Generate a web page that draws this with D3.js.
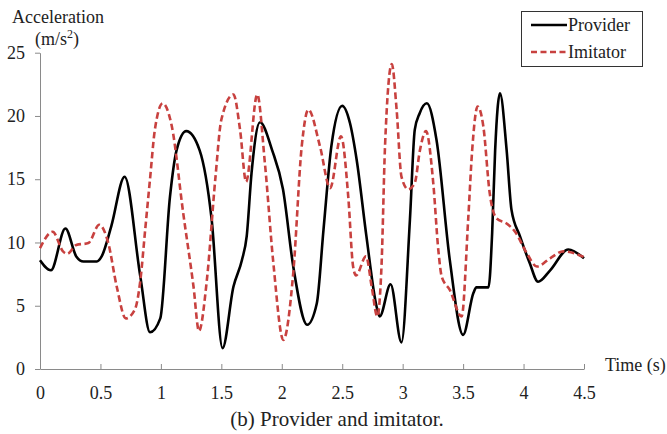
<!DOCTYPE html>
<html>
<head>
<meta charset="utf-8">
<script src="https://cdn.jsdelivr.net/npm/d3@7"></script>
<style>
  html, body { margin: 0; padding: 0; background: #fff; }
  svg { display: block; }
  svg text { font-family: 'Liberation Serif', 'Times New Roman', Times, 'DejaVu Serif', serif !important; fill: #222; }
</style>
</head>
<body>
<svg id="chart" width="667" height="434"></svg>
<script>
// ---- Data ----
const seriesNames = ["Provider", "Imitator"];
const xTicks = [0, 0.5, 1, 1.5, 2, 2.5, 3, 3.5, 4, 4.5];
const yTicks = [0, 5, 10, 15, 20, 25];

const providerTime = [0.00, 0.09, 0.21, 0.30, 0.36, 0.47, 0.51, 0.59, 0.70, 0.83, 0.91, 0.995, 1.075, 1.13, 1.21, 1.32, 1.42, 1.51, 1.60, 1.67, 1.71, 1.75, 1.82, 1.92, 2.01, 2.095, 2.21, 2.29, 2.345, 2.41, 2.50, 2.565, 2.62, 2.70, 2.785, 2.81, 2.90, 2.99, 3.06, 3.10, 3.14, 3.20, 3.28, 3.39, 3.50, 3.585, 3.61, 3.71, 3.74, 3.765, 3.805, 3.86, 3.90, 3.97, 4.05, 4.12, 4.22, 4.37, 4.50];
const providerAcc  = [8.6, 7.8, 11.1, 8.9, 8.5, 8.5, 8.9, 11.3, 15.2, 7.3, 2.9, 4.0, 13.6, 17.3, 18.8, 17.3, 11.8, 1.65, 6.5, 8.6, 10.5, 15.5, 19.5, 17.3, 14.2, 8.1, 3.5, 5.2, 11.0, 17.6, 20.8, 19.4, 16.5, 10.5, 4.9, 4.15, 6.7, 2.1, 11.8, 18.9, 20.2, 21.0, 18.1, 8.6, 2.7, 6.0, 6.45, 6.45, 10.7, 17.3, 21.8, 17.3, 12.6, 10.5, 8.4, 6.9, 7.8, 9.45, 8.75];

const imitatorTime = [0.00, 0.105, 0.19, 0.225, 0.30, 0.40, 0.49, 0.565, 0.635, 0.71, 0.785, 0.83, 0.87, 0.91, 0.95, 1.015, 1.09, 1.185, 1.27, 1.315, 1.38, 1.45, 1.50, 1.60, 1.655, 1.705, 1.797, 1.86, 1.93, 2.013, 2.095, 2.165, 2.22, 2.316, 2.40, 2.49, 2.55, 2.59, 2.614, 2.697, 2.744, 2.79, 2.826, 2.854, 2.91, 2.95, 2.99, 3.046, 3.10, 3.143, 3.193, 3.253, 3.295, 3.323, 3.39, 3.488, 3.543, 3.575, 3.62, 3.667, 3.72, 3.777, 3.86, 3.93, 4.027, 4.11, 4.22, 4.33, 4.50];
const imitatorAcc  = [9.55, 10.85, 9.3, 9.1, 9.8, 9.95, 11.4, 9.95, 6.5, 4.0, 4.7, 7.0, 11.0, 15.0, 18.9, 21.0, 19.2, 12.3, 6.5, 3.0, 7.0, 15.0, 19.7, 21.7, 18.9, 14.8, 21.7, 16.3, 8.4, 2.3, 7.6, 17.6, 20.5, 17.6, 14.3, 18.4, 13.6, 8.1, 7.4, 8.9, 6.5, 4.15, 8.4, 17.6, 24.1, 20.5, 15.2, 14.2, 14.7, 17.3, 18.8, 14.7, 9.4, 7.3, 6.25, 4.15, 12.0, 17.3, 20.75, 19.2, 13.9, 11.9, 11.5, 10.85, 9.15, 8.1, 8.75, 9.3, 8.85];

// ---- Layout ----
const FONT = "'Liberation Serif', 'Times New Roman', Times, 'DejaVu Serif', serif";
const svg = d3.select("#chart");
const x = d3.scaleLinear().domain([0, 4.5]).range([40, 584]);
const y = d3.scaleLinear().domain([0, 25]).range([369, 52.7]);
const axisColor = "#8a8a8a";
const red = "#c8413f";

// X axis
const gx = svg.append("g").attr("transform", `translate(0,${y(0)})`)
  .call(d3.axisBottom(x).tickValues(xTicks).tickFormat(d3.format("")).tickSizeInner(-5).tickSizeOuter(0).tickPadding(17));
gx.attr("font-family", FONT);
gx.select(".domain").attr("stroke", axisColor);
gx.selectAll(".tick line").attr("stroke", axisColor);
gx.selectAll(".tick text").attr("font-size", 18).style("font-family", FONT).attr("fill", "#222");

// Y axis
const gy = svg.append("g").attr("transform", `translate(${x(0)},0)`)
  .call(d3.axisLeft(y).tickValues(yTicks).tickSizeInner(5).tickSizeOuter(0).tickPadding(10));
gy.attr("font-family", FONT);
gy.select(".domain").attr("stroke", axisColor);
gy.selectAll(".tick line").attr("stroke", axisColor);
gy.selectAll(".tick text").attr("font-size", 18).style("font-family", FONT).attr("fill", "#222");

// Axis titles
svg.append("text").attr("x", 12).attr("y", 23).attr("font-size", 18).style("font-family", FONT).text("Acceleration");
const yt = svg.append("text").attr("x", 35).attr("y", 45).attr("font-size", 18).style("font-family", FONT);
yt.append("tspan").text("(m/s");
yt.append("tspan").attr("font-size", 12).attr("dy", -7).text("2");
yt.append("tspan").attr("dy", 7).text(")");
svg.append("text").attr("x", 605).attr("y", 371).attr("font-size", 18).style("font-family", FONT).text("Time (s)");

// Lines
const line = d3.line().x(d => x(d[0])).y(d => y(d[1])).curve(d3.curveMonotoneX);
const providerData = providerTime.map((t, i) => [t, providerAcc[i]]);
const imitatorData = imitatorTime.map((t, i) => [t, imitatorAcc[i]]);

svg.append("path").datum(providerData).attr("d", line)
  .attr("fill", "none").attr("stroke", "#000").attr("stroke-width", 2.6).attr("stroke-linejoin", "round");
svg.append("path").datum(imitatorData).attr("d", line)
  .attr("fill", "none").attr("stroke", red).attr("stroke-width", 2.6).attr("stroke-dasharray", "6.5,3.5");

// Legend
const lg = svg.append("g");
lg.append("rect").attr("x", 521.5).attr("y", 11.5).attr("width", 121).attr("height", 55)
  .attr("fill", "#fff").attr("stroke", "#333").attr("stroke-width", 1);
const legendItems = [
  { name: seriesNames[0], color: "#000", dash: null, yy: 25 },
  { name: seriesNames[1], color: red, dash: "6,3.5", yy: 52 }
];
legendItems.forEach(it => {
  lg.append("line").attr("x1", 531).attr("x2", 567).attr("y1", it.yy).attr("y2", it.yy)
    .attr("stroke", it.color).attr("stroke-width", 2.6).attr("stroke-dasharray", it.dash);
  lg.append("text").attr("x", 568).attr("y", it.yy + 6).attr("font-size", 18).style("font-family", FONT).text(it.name);
});

// Caption
svg.append("text").attr("x", 337).attr("y", 426).attr("font-size", 21).attr("text-anchor", "middle")
  .style("font-family", FONT).text("(b) Provider and imitator.");
</script>
</body>
</html>
